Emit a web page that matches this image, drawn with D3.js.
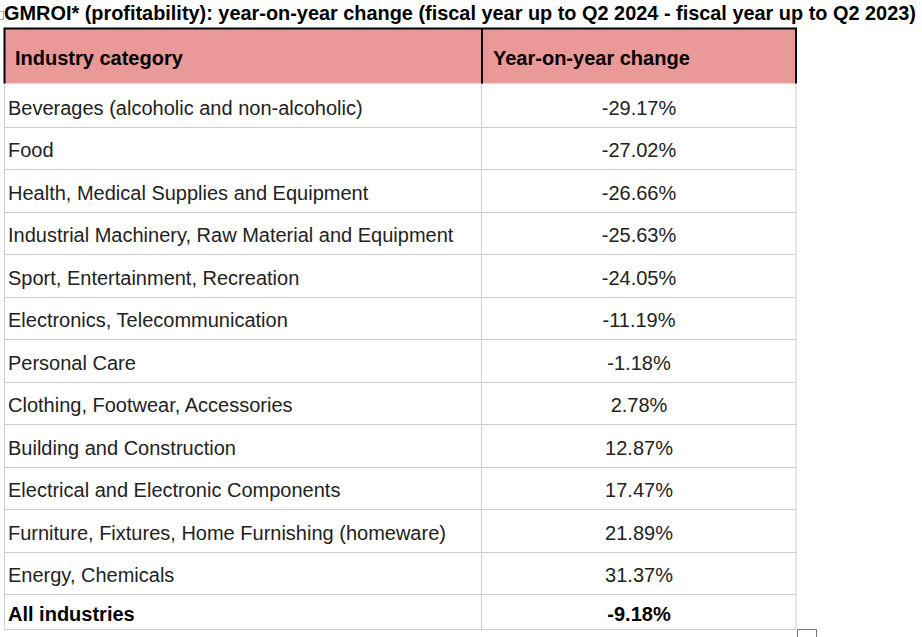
<!DOCTYPE html>
<html>
<head>
<meta charset="utf-8">
<script src="https://cdn.jsdelivr.net/npm/d3@7"></script>
<style>
  html, body { margin: 0; padding: 0; background: #fff; }
  svg { display: block; }
</style>
</head>
<body>
<svg id="chart" width="922" height="637"></svg>
<script>
const title = "GMROI* (profitability): year-on-year change (fiscal year up to Q2 2024 - fiscal year up to Q2 2023)";
const headers = ["Industry category", "Year-on-year change"];
const categories = [
  "Beverages (alcoholic and non-alcoholic)",
  "Food",
  "Health, Medical Supplies and Equipment",
  "Industrial Machinery, Raw Material and Equipment",
  "Sport, Entertainment, Recreation",
  "Electronics, Telecommunication",
  "Personal Care",
  "Clothing, Footwear, Accessories",
  "Building and Construction",
  "Electrical and Electronic Components",
  "Furniture, Fixtures, Home Furnishing (homeware)",
  "Energy, Chemicals"
];
const values = [-29.17, -27.02, -26.66, -25.63, -24.05, -11.19, -1.18, 2.78, 12.87, 17.47, 21.89, 31.37];
const totalLabel = "All industries";
const totalValue = -9.18;

const svg = d3.select("#chart");
const font = "'Liberation Sans', Arial, Helvetica, sans-serif";

// layout
const left = 4.5, mid = 482, right = 796;
const headTop = 28.5, headBottom = 83.5;
const rowH = 42.5;
const yRow = d3.scaleLinear().domain([0, 1]).range([84.2, 84.2 + rowH]);
const lastBottom = 628.5;
const fmt = v => d3.format(".2f")(v).replace("\u2212", "-") + "%";

// small artifact boxes
svg.append("rect").attr("x", -0.5).attr("y", 11.5).attr("width", 4).attr("height", 8)
  .attr("fill", "none").attr("stroke", "#aaa").attr("stroke-width", 1);
svg.append("rect").attr("x", 797.5).attr("y", 629.5).attr("width", 19).attr("height", 12)
  .attr("fill", "none").attr("stroke", "#777").attr("stroke-width", 1);

// title
svg.append("text").attr("x", 4).attr("y", 19.5)
  .attr("font-family", font).attr("font-weight", "bold").attr("font-size", 19.9)
  .attr("fill", "#000").text(title);

// header
svg.append("rect").attr("x", left).attr("y", headTop).attr("width", right - left).attr("height", headBottom - headTop)
  .attr("fill", "#ea9999");

// body grid
const g = svg.append("g");
const rowTops = d3.range(categories.length + 1).map(i => yRow(i));
g.selectAll("line.h").data(rowTops.slice(1).concat([lastBottom])).join("line")
  .attr("x1", left).attr("x2", right)
  .attr("y1", d => Math.round(d) + 0.5).attr("y2", d => Math.round(d) + 0.5)
  .attr("stroke", "#cccccc").attr("stroke-width", 1);
[left, mid - 0.5, right].forEach(x => {
  g.append("line").attr("x1", x).attr("x2", x).attr("y1", headBottom).attr("y2", lastBottom + 0.5)
    .attr("stroke", "#cccccc").attr("stroke-width", 1);
});

// header borders (black)
svg.append("path")
  .attr("d", `M${left},${headBottom} V${headTop} H${right} V${headBottom} M${mid},${headTop} V${headBottom}`)
  .attr("fill", "none").attr("stroke", "#000").attr("stroke-width", 2);

// header text
svg.append("text").attr("x", 15).attr("y", 64.5)
  .attr("font-family", font).attr("font-weight", "bold").attr("font-size", 20)
  .attr("fill", "#000").text(headers[0]);
svg.append("text").attr("x", 493).attr("y", 64.5)
  .attr("font-family", font).attr("font-weight", "bold").attr("font-size", 20)
  .attr("fill", "#000").text(headers[1]);

// body rows
const rows = categories.map((c, i) => ({ c, v: values[i], i }));
const colMid = (mid + right) / 2;
const rg = svg.append("g").attr("font-family", font).attr("font-size", 20).attr("fill", "#222");
rg.selectAll("text.cat").data(rows).join("text")
  .attr("class", "cat").attr("x", 8)
  .attr("y", d => (yRow(d.i) + yRow(d.i + 1)) / 2 + 9.2)
  .text(d => d.c);
rg.selectAll("text.val").data(rows).join("text")
  .attr("class", "val").attr("x", colMid).attr("text-anchor", "middle")
  .attr("y", d => (yRow(d.i) + yRow(d.i + 1)) / 2 + 9.2)
  .text(d => fmt(d.v));

// total row
svg.append("text").attr("x", 8).attr("y", 620.5)
  .attr("font-family", font).attr("font-weight", "bold").attr("font-size", 20)
  .attr("fill", "#000").text(totalLabel);
svg.append("text").attr("x", colMid).attr("y", 620.5).attr("text-anchor", "middle")
  .attr("font-family", font).attr("font-weight", "bold").attr("font-size", 20)
  .attr("fill", "#000").text(fmt(totalValue));
</script>
</body>
</html>
